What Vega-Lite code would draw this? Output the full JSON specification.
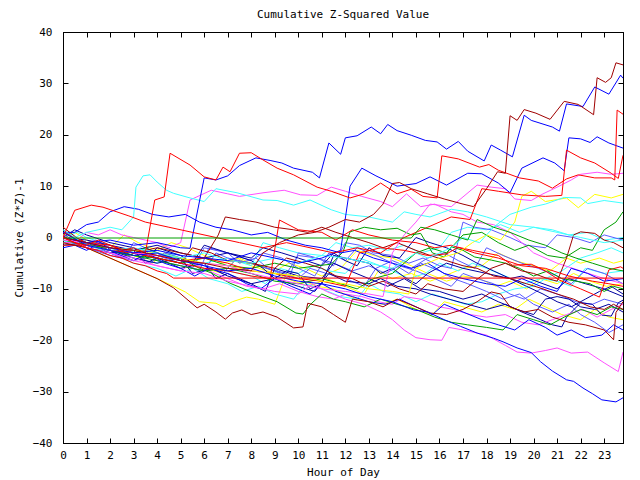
{
"$schema":"https://vega.github.io/schema/vega-lite/v6.json",
"width":560,"height":411,"autosize":"none",
"padding":{"left":63,"top":32,"right":17,"bottom":37},
"background":"white",
"title":{"text":"Cumulative Z-Squared Value","font":"DejaVu Sans Mono","fontSize":11,"fontWeight":"normal","color":"black","offset":6},
"config":{"view":{"stroke":"black","strokeWidth":1},"axis":{"domainColor":"black","tickColor":"black","labelColor":"black","titleColor":"black","labelFont":"DejaVu Sans Mono","titleFont":"DejaVu Sans Mono","labelFontSize":11,"titleFontSize":11,"titleFontWeight":"normal","grid":false,"tickSize":-5}},
"data":{"values":[
{"s":"Y2","x":0,"y":-1},{"s":"Y2","x":1,"y":-2},{"s":"Y2","x":2,"y":-4},{"s":"Y2","x":3,"y":-6},{"s":"Y2","x":4,"y":-8},{"s":"Y2","x":4.7,"y":-9.5},{"s":"Y2","x":5.2,"y":-10.6},{"s":"Y2","x":5.8,"y":-12.5},{"s":"Y2","x":6.5,"y":-12.8},{"s":"Y2","x":6.8,"y":-13.5},{"s":"Y2","x":7.2,"y":-12.5},{"s":"Y2","x":7.8,"y":-11.6},{"s":"Y2","x":8.3,"y":-12},{"s":"Y2","x":9,"y":-13},{"s":"Y2","x":9.5,"y":-7},{"s":"Y2","x":10,"y":-8},{"s":"Y2","x":10.8,"y":-9.5},{"s":"Y2","x":11.5,"y":-10},{"s":"Y2","x":12.2,"y":-11.5},{"s":"Y2","x":13,"y":-12.5},{"s":"Y2","x":13.6,"y":-13},{"s":"Y2","x":14.2,"y":-12},{"s":"Y2","x":15,"y":-14},{"s":"Y2","x":15.7,"y":-15},{"s":"Y2","x":16.2,"y":-12.5},{"s":"Y2","x":17,"y":-13.5},{"s":"Y2","x":17.8,"y":-14.5},{"s":"Y2","x":18.5,"y":-13},{"s":"Y2","x":19.2,"y":-14},{"s":"Y2","x":19.8,"y":-12},{"s":"Y2","x":20.5,"y":-13.5},{"s":"Y2","x":21.2,"y":-15},{"s":"Y2","x":22,"y":-16},{"s":"Y2","x":22.6,"y":-14},{"s":"Y2","x":23.2,"y":-15.5},{"s":"Y2","x":23.8,"y":-16},
{"s":"Y3","x":0,"y":0.5},{"s":"Y3","x":0.5,"y":1},{"s":"Y3","x":1,"y":-0.5},{"s":"Y3","x":2,"y":-2},{"s":"Y3","x":2.6,"y":0.5},{"s":"Y3","x":3.2,"y":-1},{"s":"Y3","x":4,"y":-2.5},{"s":"Y3","x":4.6,"y":-1},{"s":"Y3","x":5.3,"y":-2},{"s":"Y3","x":6,"y":-3.5},{"s":"Y3","x":6.8,"y":-5},{"s":"Y3","x":7.5,"y":-4},{"s":"Y3","x":8.2,"y":-5.5},{"s":"Y3","x":9,"y":-6.5},{"s":"Y3","x":9.6,"y":-5},{"s":"Y3","x":10.3,"y":-6},{"s":"Y3","x":11,"y":-7.5},{"s":"Y3","x":11.8,"y":-6},{"s":"Y3","x":12.5,"y":-2.5},{"s":"Y3","x":13.2,"y":-3.5},{"s":"Y3","x":14,"y":-4},{"s":"Y3","x":14.8,"y":-5.5},{"s":"Y3","x":15.5,"y":-7},{"s":"Y3","x":16.3,"y":-8.5},{"s":"Y3","x":17,"y":-7.5},{"s":"Y3","x":17.7,"y":-8},{"s":"Y3","x":18.4,"y":-9.5},{"s":"Y3","x":19,"y":-8.5},{"s":"Y3","x":19.7,"y":-10},{"s":"Y3","x":20.3,"y":-8},{"s":"Y3","x":21,"y":-9},{"s":"Y3","x":21.7,"y":-7},{"s":"Y3","x":22.4,"y":-8.5},{"s":"Y3","x":23.1,"y":-9.5},{"s":"Y3","x":23.8,"y":-9},
{"s":"Y4","x":0,"y":0},{"s":"Y4","x":1,"y":-1},{"s":"Y4","x":2,"y":-2.5},{"s":"Y4","x":3,"y":-3.5},{"s":"Y4","x":3.8,"y":-5},{"s":"Y4","x":4.3,"y":-3},{"s":"Y4","x":5,"y":-4},{"s":"Y4","x":6,"y":-6},{"s":"Y4","x":6.8,"y":-7},{"s":"Y4","x":7.4,"y":-4},{"s":"Y4","x":8,"y":-5.5},{"s":"Y4","x":9,"y":-7},{"s":"Y4","x":9.8,"y":-8.5},{"s":"Y4","x":10.5,"y":-9.5},{"s":"Y4","x":11.2,"y":-8},{"s":"Y4","x":12,"y":-9.5},{"s":"Y4","x":12.8,"y":-11},{"s":"Y4","x":13.4,"y":-6.5},{"s":"Y4","x":14,"y":-8},{"s":"Y4","x":14.8,"y":-7},{"s":"Y4","x":15.6,"y":-8.5},{"s":"Y4","x":16.2,"y":-7.5},{"s":"Y4","x":17,"y":-6},{"s":"Y4","x":17.8,"y":-5.5},{"s":"Y4","x":18.5,"y":-3},{"s":"Y4","x":19.2,"y":-4.5},{"s":"Y4","x":20,"y":-5.5},{"s":"Y4","x":20.7,"y":-6.5},{"s":"Y4","x":21.4,"y":-4},{"s":"Y4","x":22,"y":-5},{"s":"Y4","x":22.8,"y":-4},{"s":"Y4","x":23.4,"y":-5},{"s":"Y4","x":23.8,"y":-4.5},
{"s":"C3","x":0,"y":1},{"s":"C3","x":1,"y":-1.5},{"s":"C3","x":2,"y":-3},{"s":"C3","x":3,"y":-4},{"s":"C3","x":4,"y":-5},{"s":"C3","x":4.5,"y":-3},{"s":"C3","x":5.2,"y":-4.5},{"s":"C3","x":6,"y":-6},{"s":"C3","x":7,"y":-6.5},{"s":"C3","x":8,"y":-7.5},{"s":"C3","x":8.6,"y":-9},{"s":"C3","x":9.2,"y":-6},{"s":"C3","x":10,"y":-7},{"s":"C3","x":10.6,"y":-5.5},{"s":"C3","x":11.3,"y":-6.5},{"s":"C3","x":12,"y":-7},{"s":"C3","x":12.6,"y":-4},{"s":"C3","x":13.2,"y":-5},{"s":"C3","x":14,"y":-6.5},{"s":"C3","x":14.7,"y":-8},{"s":"C3","x":15.4,"y":-7},{"s":"C3","x":16,"y":-5},{"s":"C3","x":16.8,"y":-6.5},{"s":"C3","x":17.4,"y":-5},{"s":"C3","x":18,"y":-6},{"s":"C3","x":18.8,"y":-7.5},{"s":"C3","x":19.6,"y":-9},{"s":"C3","x":20.3,"y":-8},{"s":"C3","x":21,"y":-8.5},{"s":"C3","x":21.6,"y":-9.5},{"s":"C3","x":22.2,"y":-6},{"s":"C3","x":23,"y":-7},{"s":"C3","x":23.8,"y":-6.5},
{"s":"C4","x":0,"y":0},{"s":"C4","x":0.6,"y":1},{"s":"C4","x":1,"y":0},{"s":"C4","x":2,"y":-1.5},{"s":"C4","x":2.8,"y":-3},{"s":"C4","x":3.3,"y":-2},{"s":"C4","x":4,"y":-3.5},{"s":"C4","x":5,"y":-4.5},{"s":"C4","x":6,"y":-5},{"s":"C4","x":7,"y":-4},{"s":"C4","x":8,"y":-5.5},{"s":"C4","x":8.5,"y":-1},{"s":"C4","x":9.2,"y":-2},{"s":"C4","x":10,"y":-3},{"s":"C4","x":11,"y":-3.5},{"s":"C4","x":11.6,"y":-1},{"s":"C4","x":12.3,"y":-2},{"s":"C4","x":13,"y":-1.5},{"s":"C4","x":13.8,"y":-2.5},{"s":"C4","x":14.5,"y":-1.5},{"s":"C4","x":15.2,"y":-3},{"s":"C4","x":16,"y":-2},{"s":"C4","x":16.5,"y":1},{"s":"C4","x":17.2,"y":2},{"s":"C4","x":18,"y":1.5},{"s":"C4","x":18.6,"y":2.5},{"s":"C4","x":19.4,"y":1},{"s":"C4","x":20,"y":2},{"s":"C4","x":20.8,"y":1.5},{"s":"C4","x":21.5,"y":0.5},{"s":"C4","x":22.3,"y":1},{"s":"C4","x":23,"y":-0.5},{"s":"C4","x":23.8,"y":0},
{"s":"C5","x":0,"y":-0.5},{"s":"C5","x":1,"y":-2},{"s":"C5","x":2,"y":-3},{"s":"C5","x":3,"y":-5},{"s":"C5","x":4,"y":-6},{"s":"C5","x":4.8,"y":-7.5},{"s":"C5","x":5.5,"y":-6},{"s":"C5","x":6.2,"y":-8},{"s":"C5","x":7,"y":-9},{"s":"C5","x":7.6,"y":-10.5},{"s":"C5","x":8.3,"y":-9.5},{"s":"C5","x":9,"y":-11},{"s":"C5","x":9.8,"y":-12},{"s":"C5","x":10.3,"y":-9},{"s":"C5","x":11,"y":-10},{"s":"C5","x":11.8,"y":-11.5},{"s":"C5","x":12.5,"y":-12},{"s":"C5","x":13,"y":-9},{"s":"C5","x":13.6,"y":-10.5},{"s":"C5","x":14.3,"y":-11},{"s":"C5","x":15,"y":-12.5},{"s":"C5","x":15.7,"y":-11},{"s":"C5","x":16.4,"y":-12},{"s":"C5","x":17.1,"y":-13},{"s":"C5","x":17.8,"y":-12.5},{"s":"C5","x":18.5,"y":-11},{"s":"C5","x":19.2,"y":-10},{"s":"C5","x":20,"y":-9.5},{"s":"C5","x":20.5,"y":-8},{"s":"C5","x":21.2,"y":-6.5},{"s":"C5","x":22,"y":-4},{"s":"C5","x":22.7,"y":-3},{"s":"C5","x":23.3,"y":-2},{"s":"C5","x":23.8,"y":-3},
{"s":"SL1","x":0,"y":-1},{"s":"SL1","x":0.5,"y":-1},{"s":"SL1","x":1,"y":-2},{"s":"SL1","x":1.5,"y":-1},{"s":"SL1","x":2,"y":-3},{"s":"SL1","x":2.5,"y":-4},{"s":"SL1","x":3,"y":-2},{"s":"SL1","x":3.5,"y":-3},{"s":"SL1","x":4,"y":-4.5},{"s":"SL1","x":5,"y":-5.5},{"s":"SL1","x":6,"y":-6.5},{"s":"SL1","x":6.5,"y":-3},{"s":"SL1","x":7,"y":-4},{"s":"SL1","x":8,"y":-5},{"s":"SL1","x":9,"y":-6.5},{"s":"SL1","x":9.6,"y":-8},{"s":"SL1","x":10,"y":-3},{"s":"SL1","x":10.8,"y":-4},{"s":"SL1","x":11.5,"y":-5},{"s":"SL1","x":12.3,"y":-6.5},{"s":"SL1","x":13,"y":-5.5},{"s":"SL1","x":13.7,"y":-7},{"s":"SL1","x":14.3,"y":-5.5},{"s":"SL1","x":15,"y":-6.5},{"s":"SL1","x":15.8,"y":-8},{"s":"SL1","x":16.5,"y":-9.5},{"s":"SL1","x":17,"y":-7},{"s":"SL1","x":17.6,"y":-8},{"s":"SL1","x":18.3,"y":-9},{"s":"SL1","x":19,"y":-11},{"s":"SL1","x":19.6,"y":-12},{"s":"SL1","x":20.3,"y":-10},{"s":"SL1","x":21,"y":-11},{"s":"SL1","x":21.8,"y":-12.5},{"s":"SL1","x":22.5,"y":-13},{"s":"SL1","x":23,"y":-12},{"s":"SL1","x":23.8,"y":-13},
{"s":"SL2","x":0,"y":0},{"s":"SL2","x":1,"y":-1},{"s":"SL2","x":2,"y":-3},{"s":"SL2","x":2.6,"y":-4},{"s":"SL2","x":3,"y":-1},{"s":"SL2","x":3.5,"y":-2},{"s":"SL2","x":4.2,"y":-3.5},{"s":"SL2","x":5,"y":-4.5},{"s":"SL2","x":5.5,"y":-6},{"s":"SL2","x":6,"y":-2},{"s":"SL2","x":7,"y":-3},{"s":"SL2","x":7.5,"y":-5},{"s":"SL2","x":8.2,"y":-4},{"s":"SL2","x":8.7,"y":-6},{"s":"SL2","x":9.5,"y":-7},{"s":"SL2","x":10,"y":-3.5},{"s":"SL2","x":10.8,"y":-4},{"s":"SL2","x":11.5,"y":-5.5},{"s":"SL2","x":12,"y":-1},{"s":"SL2","x":12.6,"y":-1.5},{"s":"SL2","x":13.2,"y":-3},{"s":"SL2","x":14,"y":-3.5},{"s":"SL2","x":14.7,"y":-5},{"s":"SL2","x":15.3,"y":-4},{"s":"SL2","x":16,"y":-5.5},{"s":"SL2","x":16.5,"y":-6},{"s":"SL2","x":17,"y":3},{"s":"SL2","x":17.5,"y":2},{"s":"SL2","x":18.2,"y":1.5},{"s":"SL2","x":19,"y":0},{"s":"SL2","x":19.7,"y":-1.5},{"s":"SL2","x":20.5,"y":-2},{"s":"SL2","x":21,"y":0.5},{"s":"SL2","x":21.7,"y":0},{"s":"SL2","x":22.4,"y":-1},{"s":"SL2","x":23,"y":0.5},{"s":"SL2","x":23.8,"y":-0.5},
{"s":"SL3","x":0,"y":0.5},{"s":"SL3","x":1,"y":-2},{"s":"SL3","x":2,"y":-3.5},{"s":"SL3","x":3,"y":-4.5},{"s":"SL3","x":4,"y":-3.5},{"s":"SL3","x":5,"y":-5},{"s":"SL3","x":5.8,"y":-6.5},{"s":"SL3","x":6.2,"y":-2},{"s":"SL3","x":7,"y":-3},{"s":"SL3","x":8,"y":-4.5},{"s":"SL3","x":8.5,"y":-3},{"s":"SL3","x":9.3,"y":-4},{"s":"SL3","x":10,"y":-6},{"s":"SL3","x":10.7,"y":-7.5},{"s":"SL3","x":11.3,"y":-3},{"s":"SL3","x":12,"y":-4.5},{"s":"SL3","x":12.5,"y":-2},{"s":"SL3","x":13.3,"y":-3.5},{"s":"SL3","x":14,"y":-5},{"s":"SL3","x":14.7,"y":-7},{"s":"SL3","x":15.2,"y":-5},{"s":"SL3","x":16,"y":-6.5},{"s":"SL3","x":16.6,"y":-8},{"s":"SL3","x":17.2,"y":-9},{"s":"SL3","x":18,"y":-10.5},{"s":"SL3","x":18.7,"y":-12},{"s":"SL3","x":19.4,"y":-11},{"s":"SL3","x":20,"y":-13},{"s":"SL3","x":20.8,"y":-14.5},{"s":"SL3","x":21.5,"y":-13},{"s":"SL3","x":22,"y":-15},{"s":"SL3","x":22.6,"y":-16.5},{"s":"SL3","x":23.2,"y":-18.5},{"s":"SL3","x":23.8,"y":-17},
{"s":"SL4","x":0,"y":0},{"s":"SL4","x":0.7,"y":-1.5},{"s":"SL4","x":1.4,"y":-0.5},{"s":"SL4","x":2,"y":-2},{"s":"SL4","x":3,"y":-3},{"s":"SL4","x":3.7,"y":-5},{"s":"SL4","x":4.3,"y":-3},{"s":"SL4","x":5,"y":-4},{"s":"SL4","x":6,"y":-5.5},{"s":"SL4","x":6.8,"y":-7},{"s":"SL4","x":7.3,"y":-4.5},{"s":"SL4","x":8,"y":-5},{"s":"SL4","x":9,"y":-6.5},{"s":"SL4","x":10,"y":-8},{"s":"SL4","x":10.5,"y":-6},{"s":"SL4","x":11.2,"y":-7},{"s":"SL4","x":12,"y":-8},{"s":"SL4","x":12.8,"y":-9.5},{"s":"SL4","x":13.3,"y":-6},{"s":"SL4","x":14,"y":-4.5},{"s":"SL4","x":14.8,"y":-6},{"s":"SL4","x":15.5,"y":-4},{"s":"SL4","x":16.2,"y":-3},{"s":"SL4","x":16.8,"y":-4.5},{"s":"SL4","x":17.5,"y":-6},{"s":"SL4","x":18,"y":-2},{"s":"SL4","x":18.7,"y":-3.5},{"s":"SL4","x":19.5,"y":-5},{"s":"SL4","x":20.2,"y":-6},{"s":"SL4","x":21,"y":-7.5},{"s":"SL4","x":21.6,"y":-9},{"s":"SL4","x":22.3,"y":-6},{"s":"SL4","x":23,"y":-7},{"s":"SL4","x":23.8,"y":-9},
{"s":"N1","x":0,"y":1.5},{"s":"N1","x":1,"y":-2},{"s":"N1","x":2,"y":-3},{"s":"N1","x":3,"y":-2.5},{"s":"N1","x":3.5,"y":-5},{"s":"N1","x":4,"y":-4},{"s":"N1","x":5,"y":-6},{"s":"N1","x":6,"y":-5},{"s":"N1","x":6.5,"y":-8},{"s":"N1","x":7,"y":-7},{"s":"N1","x":8,"y":-9},{"s":"N1","x":8.6,"y":-10.5},{"s":"N1","x":9,"y":-6},{"s":"N1","x":10,"y":-7.5},{"s":"N1","x":11,"y":-8},{"s":"N1","x":11.5,"y":-5},{"s":"N1","x":12.2,"y":-6.5},{"s":"N1","x":13,"y":-8},{"s":"N1","x":13.8,"y":-9.5},{"s":"N1","x":14.5,"y":-8},{"s":"N1","x":15.2,"y":-10},{"s":"N1","x":16,"y":-10.5},{"s":"N1","x":17,"y":-12},{"s":"N1","x":17.8,"y":-11},{"s":"N1","x":18.5,"y":-12.5},{"s":"N1","x":19.3,"y":-14},{"s":"N1","x":20,"y":-15},{"s":"N1","x":20.5,"y":-12},{"s":"N1","x":21,"y":-11.5},{"s":"N1","x":21.5,"y":-12},{"s":"N1","x":22,"y":-13.5},{"s":"N1","x":22.6,"y":-14},{"s":"N1","x":23.2,"y":-13},{"s":"N1","x":23.8,"y":-14.5},
{"s":"N2","x":0,"y":0},{"s":"N2","x":0.5,"y":1.5},{"s":"N2","x":1,"y":0.5},{"s":"N2","x":2,"y":-1},{"s":"N2","x":3,"y":-2},{"s":"N2","x":3.6,"y":-4},{"s":"N2","x":4,"y":-2},{"s":"N2","x":5,"y":-3.5},{"s":"N2","x":5.5,"y":-5},{"s":"N2","x":6,"y":-1.5},{"s":"N2","x":7,"y":-3},{"s":"N2","x":8,"y":-4.5},{"s":"N2","x":8.5,"y":-6},{"s":"N2","x":9,"y":-8},{"s":"N2","x":9.5,"y":-6.5},{"s":"N2","x":10,"y":-7},{"s":"N2","x":10.5,"y":-10},{"s":"N2","x":11,"y":-9},{"s":"N2","x":11.5,"y":-3.5},{"s":"N2","x":12,"y":-4},{"s":"N2","x":13,"y":-5},{"s":"N2","x":13.5,"y":-7},{"s":"N2","x":14,"y":-6},{"s":"N2","x":14.6,"y":-8},{"s":"N2","x":15,"y":-9},{"s":"N2","x":15.5,"y":-7},{"s":"N2","x":16.3,"y":-5},{"s":"N2","x":17,"y":-6},{"s":"N2","x":18,"y":-7},{"s":"N2","x":19,"y":-8},{"s":"N2","x":19.5,"y":-7.5},{"s":"N2","x":20.4,"y":-9},{"s":"N2","x":21,"y":-10},{"s":"N2","x":21.5,"y":-8},{"s":"N2","x":22.2,"y":-9},{"s":"N2","x":23,"y":-10},{"s":"N2","x":23.8,"y":-11.5},
{"s":"N3","x":0,"y":-1.5},{"s":"N3","x":1,"y":-1},{"s":"N3","x":2,"y":-2.5},{"s":"N3","x":3,"y":-4},{"s":"N3","x":4,"y":-5},{"s":"N3","x":5,"y":-4},{"s":"N3","x":5.5,"y":-7},{"s":"N3","x":6.3,"y":-6},{"s":"N3","x":7,"y":-7.5},{"s":"N3","x":8,"y":-9},{"s":"N3","x":9,"y":-8},{"s":"N3","x":10,"y":-9.5},{"s":"N3","x":10.7,"y":-10.5},{"s":"N3","x":11.3,"y":-7},{"s":"N3","x":12,"y":-8.5},{"s":"N3","x":13,"y":-9},{"s":"N3","x":13.5,"y":-8},{"s":"N3","x":14.2,"y":-9.5},{"s":"N3","x":15,"y":-10},{"s":"N3","x":15.6,"y":-11},{"s":"N3","x":16.4,"y":-12},{"s":"N3","x":17.2,"y":-13},{"s":"N3","x":18,"y":-14},{"s":"N3","x":18.8,"y":-13},{"s":"N3","x":19.5,"y":-14.5},{"s":"N3","x":20.3,"y":-16},{"s":"N3","x":20.8,"y":-17},{"s":"N3","x":21.2,"y":-17.4},{"s":"N3","x":21.4,"y":-15.5},{"s":"N3","x":22,"y":-12.7},{"s":"N3","x":22.5,"y":-13},{"s":"N3","x":22.9,"y":-15.1},{"s":"N3","x":23.3,"y":-15.3},{"s":"N3","x":23.6,"y":-12.7},{"s":"N3","x":23.8,"y":-12.2},
{"s":"N4","x":0,"y":0},{"s":"N4","x":1,"y":-0.5},{"s":"N4","x":2,"y":-1.5},{"s":"N4","x":3,"y":-2.5},{"s":"N4","x":4,"y":-1.5},{"s":"N4","x":5,"y":-3},{"s":"N4","x":6,"y":-4},{"s":"N4","x":7,"y":-3},{"s":"N4","x":8,"y":-4},{"s":"N4","x":8.5,"y":-2},{"s":"N4","x":9.3,"y":-3},{"s":"N4","x":10,"y":-4},{"s":"N4","x":11,"y":-5.5},{"s":"N4","x":11.5,"y":-3},{"s":"N4","x":12,"y":-4.5},{"s":"N4","x":12.5,"y":-5.5},{"s":"N4","x":13,"y":-2},{"s":"N4","x":13.6,"y":-3.5},{"s":"N4","x":14.3,"y":-4},{"s":"N4","x":15,"y":0},{"s":"N4","x":15.6,"y":-1},{"s":"N4","x":16.3,"y":-2},{"s":"N4","x":17,"y":-3.5},{"s":"N4","x":17.6,"y":-5},{"s":"N4","x":18.3,"y":-6.5},{"s":"N4","x":19,"y":-8},{"s":"N4","x":19.7,"y":-9.5},{"s":"N4","x":20.4,"y":-11},{"s":"N4","x":21,"y":-12.5},{"s":"N4","x":21.6,"y":-13.5},{"s":"N4","x":22.2,"y":-12},{"s":"N4","x":22.8,"y":-10.5},{"s":"N4","x":23.3,"y":-9.5},{"s":"N4","x":23.8,"y":-11},
{"s":"M2","x":0,"y":-1},{"s":"M2","x":0.5,"y":-1},{"s":"M2","x":1,"y":-2},{"s":"M2","x":1.5,"y":-1},{"s":"M2","x":2,"y":-3},{"s":"M2","x":3,"y":-4},{"s":"M2","x":4,"y":-5.5},{"s":"M2","x":5,"y":-6.5},{"s":"M2","x":5.5,"y":-5},{"s":"M2","x":6.2,"y":-6.5},{"s":"M2","x":7,"y":-8},{"s":"M2","x":7.8,"y":-9.5},{"s":"M2","x":8.5,"y":-10},{"s":"M2","x":9.2,"y":-9},{"s":"M2","x":10,"y":-10.5},{"s":"M2","x":10.8,"y":-11.5},{"s":"M2","x":11.5,"y":-12},{"s":"M2","x":12,"y":-11},{"s":"M2","x":12.7,"y":-11.5},{"s":"M2","x":13.4,"y":-12.5},{"s":"M2","x":14,"y":-13},{"s":"M2","x":14.5,"y":-11.5},{"s":"M2","x":15.2,"y":-12},{"s":"M2","x":16,"y":-13.5},{"s":"M2","x":16.6,"y":-14},{"s":"M2","x":17.3,"y":-15},{"s":"M2","x":18,"y":-15.5},{"s":"M2","x":18.8,"y":-15},{"s":"M2","x":19.5,"y":-16.5},{"s":"M2","x":20.2,"y":-17},{"s":"M2","x":20.8,"y":-16},{"s":"M2","x":21.4,"y":-15},{"s":"M2","x":22.1,"y":-14},{"s":"M2","x":22.7,"y":-15.5},{"s":"M2","x":23.3,"y":-14},{"s":"M2","x":23.8,"y":-13},
{"s":"M4","x":0,"y":0},{"s":"M4","x":0.5,"y":-1},{"s":"M4","x":1,"y":1},{"s":"M4","x":1.5,"y":0.5},{"s":"M4","x":2,"y":1.5},{"s":"M4","x":2.5,"y":0.5},{"s":"M4","x":3,"y":0},{"s":"M4","x":3.5,"y":-0.5},{"s":"M4","x":4,"y":-1},{"s":"M4","x":4.5,"y":-2},{"s":"M4","x":5,"y":-1},{"s":"M4","x":5.4,"y":7.3},{"s":"M4","x":6.3,"y":9.2},{"s":"M4","x":7,"y":8.5},{"s":"M4","x":7.5,"y":8},{"s":"M4","x":8.5,"y":8.7},{"s":"M4","x":9.4,"y":9.2},{"s":"M4","x":10.1,"y":8.3},{"s":"M4","x":10.8,"y":8.2},{"s":"M4","x":11.4,"y":9.8},{"s":"M4","x":12,"y":9},{"s":"M4","x":12.7,"y":8},{"s":"M4","x":13.5,"y":7},{"s":"M4","x":14,"y":6},{"s":"M4","x":14.6,"y":8.5},{"s":"M4","x":15.2,"y":6},{"s":"M4","x":15.8,"y":6.5},{"s":"M4","x":16.5,"y":5},{"s":"M4","x":17,"y":4.5},{"s":"M4","x":17.6,"y":3},{"s":"M4","x":18.3,"y":2.5},{"s":"M4","x":19,"y":1},{"s":"M4","x":19.5,"y":-1},{"s":"M4","x":20,"y":-3},{"s":"M4","x":21,"y":-5},{"s":"M4","x":22,"y":-6.5},{"s":"M4","x":23,"y":-8},{"s":"M4","x":23.8,"y":-9},
{"s":"G2","x":0,"y":0.5},{"s":"G2","x":1,"y":-1.5},{"s":"G2","x":2,"y":-2.5},{"s":"G2","x":2.8,"y":-3.5},{"s":"G2","x":3.5,"y":-2},{"s":"G2","x":4.3,"y":-3.5},{"s":"G2","x":5,"y":-4},{"s":"G2","x":5.8,"y":-6},{"s":"G2","x":6.3,"y":-6.9},{"s":"G2","x":7.1,"y":-8.9},{"s":"G2","x":8,"y":-10.6},{"s":"G2","x":8.5,"y":-11.5},{"s":"G2","x":9.1,"y":-12.5},{"s":"G2","x":9.9,"y":-14.7},{"s":"G2","x":10.2,"y":-14.9},{"s":"G2","x":10.5,"y":-13.1},{"s":"G2","x":11,"y":-11},{"s":"G2","x":11.5,"y":-12},{"s":"G2","x":12,"y":-12.5},{"s":"G2","x":12.8,"y":-13.5},{"s":"G2","x":13.5,"y":-12},{"s":"G2","x":14.2,"y":-13},{"s":"G2","x":15,"y":-14},{"s":"G2","x":15.8,"y":-15.5},{"s":"G2","x":16.5,"y":-16.5},{"s":"G2","x":17.2,"y":-17},{"s":"G2","x":18,"y":-17.5},{"s":"G2","x":18.7,"y":-18},{"s":"G2","x":19.3,"y":-15},{"s":"G2","x":20,"y":-16},{"s":"G2","x":20.7,"y":-17},{"s":"G2","x":21.3,"y":-15.5},{"s":"G2","x":22,"y":-14},{"s":"G2","x":22.7,"y":-15},{"s":"G2","x":23.3,"y":-13.5},{"s":"G2","x":23.8,"y":-14},
{"s":"G3","x":0,"y":0},{"s":"G3","x":1,"y":-1},{"s":"G3","x":2,"y":-2.5},{"s":"G3","x":3,"y":-3.5},{"s":"G3","x":4,"y":-4},{"s":"G3","x":5,"y":-5},{"s":"G3","x":6,"y":-4},{"s":"G3","x":7,"y":-5.5},{"s":"G3","x":8,"y":-6},{"s":"G3","x":9,"y":-5},{"s":"G3","x":10,"y":-6},{"s":"G3","x":10.8,"y":-5.5},{"s":"G3","x":11.4,"y":-5.2},{"s":"G3","x":11.9,"y":-2.8},{"s":"G3","x":12.2,"y":1.1},{"s":"G3","x":12.8,"y":2},{"s":"G3","x":13.5,"y":1.5},{"s":"G3","x":14.2,"y":1.8},{"s":"G3","x":14.8,"y":0.5},{"s":"G3","x":15.2,"y":0.8},{"s":"G3","x":15.7,"y":-3},{"s":"G3","x":16.2,"y":-3.8},{"s":"G3","x":16.5,"y":-1.8},{"s":"G3","x":17,"y":-2.5},{"s":"G3","x":17.5,"y":-3.8},{"s":"G3","x":18.2,"y":-4.4},{"s":"G3","x":18.8,"y":-5},{"s":"G3","x":19.4,"y":-6},{"s":"G3","x":20,"y":-7.5},{"s":"G3","x":20.6,"y":-6.5},{"s":"G3","x":21.2,"y":-8},{"s":"G3","x":21.8,"y":-8.5},{"s":"G3","x":22.4,"y":-9},{"s":"G3","x":23,"y":-10.5},{"s":"G3","x":23.4,"y":-9.5},{"s":"G3","x":23.8,"y":-10},
{"s":"G4","x":0,"y":-0.5},{"s":"G4","x":1,"y":-1.5},{"s":"G4","x":2,"y":-2},{"s":"G4","x":3,"y":-3.5},{"s":"G4","x":4,"y":-4.5},{"s":"G4","x":5,"y":-5.5},{"s":"G4","x":6,"y":-6.5},{"s":"G4","x":7,"y":-6},{"s":"G4","x":8,"y":-7},{"s":"G4","x":9,"y":-8.5},{"s":"G4","x":10,"y":-9},{"s":"G4","x":11,"y":-8},{"s":"G4","x":11.8,"y":-9},{"s":"G4","x":12.5,"y":-10},{"s":"G4","x":13.2,"y":-8},{"s":"G4","x":14,"y":-7},{"s":"G4","x":14.5,"y":-5},{"s":"G4","x":15,"y":-3},{"s":"G4","x":15.6,"y":-2},{"s":"G4","x":16.3,"y":-3},{"s":"G4","x":17,"y":0.5},{"s":"G4","x":17.8,"y":1},{"s":"G4","x":18.5,"y":-1},{"s":"G4","x":19.2,"y":-2.5},{"s":"G4","x":19.8,"y":-1.5},{"s":"G4","x":20.6,"y":-3.5},{"s":"G4","x":21.3,"y":-4},{"s":"G4","x":22,"y":-2},{"s":"G4","x":22.5,"y":-2.5},{"s":"G4","x":23,"y":1.5},{"s":"G4","x":23.5,"y":3},{"s":"G4","x":23.8,"y":5},
{"s":"DR3","x":0,"y":1},{"s":"DR3","x":1,"y":-1},{"s":"DR3","x":2,"y":-2},{"s":"DR3","x":3,"y":-3},{"s":"DR3","x":4,"y":-4},{"s":"DR3","x":5,"y":-5},{"s":"DR3","x":5.5,"y":-2},{"s":"DR3","x":6.3,"y":-3},{"s":"DR3","x":7,"y":-4.5},{"s":"DR3","x":8,"y":-5},{"s":"DR3","x":9,"y":-6},{"s":"DR3","x":9.5,"y":-4},{"s":"DR3","x":10.3,"y":-5},{"s":"DR3","x":11,"y":-6},{"s":"DR3","x":11.6,"y":-7.5},{"s":"DR3","x":12.3,"y":-8},{"s":"DR3","x":13,"y":-9.5},{"s":"DR3","x":13.6,"y":-8.5},{"s":"DR3","x":14.3,"y":-10},{"s":"DR3","x":15,"y":-11},{"s":"DR3","x":15.5,"y":-9},{"s":"DR3","x":16.2,"y":-10},{"s":"DR3","x":17,"y":-10.5},{"s":"DR3","x":17.5,"y":-8.5},{"s":"DR3","x":18.2,"y":-6},{"s":"DR3","x":18.8,"y":-5},{"s":"DR3","x":19.5,"y":-6.5},{"s":"DR3","x":20,"y":-7},{"s":"DR3","x":20.6,"y":-8},{"s":"DR3","x":21,"y":-8.5},{"s":"DR3","x":21.4,"y":-4},{"s":"DR3","x":21.7,"y":0.5},{"s":"DR3","x":22,"y":1.1},{"s":"DR3","x":22.6,"y":0.8},{"s":"DR3","x":23,"y":-0.5},{"s":"DR3","x":23.4,"y":-1},{"s":"DR3","x":23.8,"y":-2},
{"s":"DR4","x":0,"y":2},{"s":"DR4","x":1,"y":-1.5},{"s":"DR4","x":2,"y":-2.5},{"s":"DR4","x":3,"y":-3},{"s":"DR4","x":4,"y":-2},{"s":"DR4","x":5,"y":-3},{"s":"DR4","x":6,"y":-4},{"s":"DR4","x":6.6,"y":0.5},{"s":"DR4","x":6.9,"y":4},{"s":"DR4","x":7.5,"y":3.5},{"s":"DR4","x":8.2,"y":3},{"s":"DR4","x":9,"y":2},{"s":"DR4","x":9.8,"y":1.5},{"s":"DR4","x":10.4,"y":1},{"s":"DR4","x":11,"y":2},{"s":"DR4","x":11.6,"y":1},{"s":"DR4","x":12.3,"y":0},{"s":"DR4","x":13,"y":-1},{"s":"DR4","x":13.6,"y":-2},{"s":"DR4","x":14.2,"y":-1},{"s":"DR4","x":15,"y":-2.5},{"s":"DR4","x":15.6,"y":-3.5},{"s":"DR4","x":16.3,"y":-4.5},{"s":"DR4","x":17,"y":-5.5},{"s":"DR4","x":17.6,"y":-6},{"s":"DR4","x":18.3,"y":-7.5},{"s":"DR4","x":19,"y":-8},{"s":"DR4","x":19.7,"y":-9},{"s":"DR4","x":20.4,"y":-10},{"s":"DR4","x":21,"y":-11},{"s":"DR4","x":21.7,"y":-12},{"s":"DR4","x":22.4,"y":-13.5},{"s":"DR4","x":23,"y":-14},{"s":"DR4","x":23.4,"y":-13},{"s":"DR4","x":23.8,"y":-14},
{"s":"Bl2","x":0,"y":-2},{"s":"Bl2","x":0.5,"y":-1.5},{"s":"Bl2","x":1,"y":-2.5},{"s":"Bl2","x":1.6,"y":-1},{"s":"Bl2","x":2.2,"y":-3},{"s":"Bl2","x":3,"y":-4.5},{"s":"Bl2","x":3.6,"y":-3},{"s":"Bl2","x":4.3,"y":-5},{"s":"Bl2","x":5,"y":-6},{"s":"Bl2","x":5.6,"y":-7.5},{"s":"Bl2","x":6.2,"y":-6},{"s":"Bl2","x":7,"y":-7},{"s":"Bl2","x":7.8,"y":-9},{"s":"Bl2","x":8.4,"y":-10},{"s":"Bl2","x":9,"y":-8},{"s":"Bl2","x":9.7,"y":-9.5},{"s":"Bl2","x":10.5,"y":-11},{"s":"Bl2","x":11,"y":-9},{"s":"Bl2","x":11.6,"y":-10.5},{"s":"Bl2","x":12.3,"y":-11.5},{"s":"Bl2","x":13,"y":-12.5},{"s":"Bl2","x":13.7,"y":-13},{"s":"Bl2","x":14.3,"y":-12},{"s":"Bl2","x":15,"y":-13.5},{"s":"Bl2","x":15.7,"y":-15},{"s":"Bl2","x":16.2,"y":-13},{"s":"Bl2","x":17,"y":-14.5},{"s":"Bl2","x":17.8,"y":-16},{"s":"Bl2","x":18.5,"y":-17},{"s":"Bl2","x":19.2,"y":-18},{"s":"Bl2","x":19.8,"y":-16},{"s":"Bl2","x":20.5,"y":-17.5},{"s":"Bl2","x":21,"y":-19},{"s":"Bl2","x":21.6,"y":-18},{"s":"Bl2","x":22.2,"y":-19.5},{"s":"Bl2","x":22.9,"y":-19},{"s":"Bl2","x":23.4,"y":-17},{"s":"Bl2","x":23.8,"y":-18},
{"s":"B3","x":0,"y":1},{"s":"B3","x":0.5,"y":1},{"s":"B3","x":1,"y":2.5},{"s":"B3","x":1.5,"y":3},{"s":"B3","x":2,"y":5},{"s":"B3","x":2.6,"y":6},{"s":"B3","x":3.2,"y":5.5},{"s":"B3","x":3.8,"y":4.5},{"s":"B3","x":4.5,"y":4},{"s":"B3","x":5.2,"y":4.5},{"s":"B3","x":5.8,"y":3},{"s":"B3","x":6.5,"y":2},{"s":"B3","x":7.2,"y":1.5},{"s":"B3","x":8,"y":0.5},{"s":"B3","x":8.7,"y":1},{"s":"B3","x":9.5,"y":-0.5},{"s":"B3","x":10.3,"y":-1.5},{"s":"B3","x":11,"y":-2},{"s":"B3","x":11.8,"y":-3},{"s":"B3","x":12.4,"y":-2.5},{"s":"B3","x":13.2,"y":-4},{"s":"B3","x":14,"y":-5},{"s":"B3","x":14.8,"y":-6},{"s":"B3","x":15.5,"y":-5},{"s":"B3","x":16.2,"y":-7},{"s":"B3","x":17,"y":-8},{"s":"B3","x":18,"y":-9},{"s":"B3","x":18.8,"y":-9.5},{"s":"B3","x":19.5,"y":-8},{"s":"B3","x":20.3,"y":-9.5},{"s":"B3","x":21,"y":-10.5},{"s":"B3","x":21.6,"y":-6},{"s":"B3","x":22.3,"y":-7},{"s":"B3","x":23,"y":-8.5},{"s":"B3","x":23.8,"y":-8},
{"s":"R4","x":0,"y":1},{"s":"R4","x":1,"y":-1},{"s":"R4","x":2,"y":-1.5},{"s":"R4","x":3,"y":-3},{"s":"R4","x":4,"y":-3.5},{"s":"R4","x":5,"y":-4.5},{"s":"R4","x":6,"y":-4},{"s":"R4","x":7,"y":-5},{"s":"R4","x":8,"y":-6.5},{"s":"R4","x":9,"y":-7},{"s":"R4","x":10,"y":-8},{"s":"R4","x":11,"y":-8.5},{"s":"R4","x":12,"y":-9.5},{"s":"R4","x":12.6,"y":-3},{"s":"R4","x":13.5,"y":-2},{"s":"R4","x":14.5,"y":-2.5},{"s":"R4","x":15.5,"y":-3.5},{"s":"R4","x":16.3,"y":-3.2},{"s":"R4","x":16.8,"y":-1.9},{"s":"R4","x":17.4,"y":-2.5},{"s":"R4","x":18.5,"y":-3.5},{"s":"R4","x":19.1,"y":-5.4},{"s":"R4","x":19.9,"y":-5.2},{"s":"R4","x":20.5,"y":-6.5},{"s":"R4","x":21.1,"y":-8.3},{"s":"R4","x":22,"y":-10},{"s":"R4","x":22.8,"y":-11.6},{"s":"R4","x":23.2,"y":-6.3},{"s":"R4","x":23.7,"y":-5.7},{"s":"R4","x":23.8,"y":-6},
{"s":"R5","x":0,"y":-1.5},{"s":"R5","x":1,"y":-1.5},{"s":"R5","x":2,"y":-2.5},{"s":"R5","x":3,"y":-3},{"s":"R5","x":4,"y":-4},{"s":"R5","x":5,"y":-5},{"s":"R5","x":6,"y":-6},{"s":"R5","x":7,"y":-6.5},{"s":"R5","x":8,"y":-7.5},{"s":"R5","x":8.8,"y":-8},{"s":"R5","x":9.2,"y":3.4},{"s":"R5","x":10,"y":1.5},{"s":"R5","x":11,"y":1},{"s":"R5","x":11.6,"y":-0.5},{"s":"R5","x":12.3,"y":1.5},{"s":"R5","x":13,"y":0.5},{"s":"R5","x":14,"y":-0.5},{"s":"R5","x":15,"y":-1},{"s":"R5","x":15.8,"y":-2},{"s":"R5","x":16.5,"y":-1.5},{"s":"R5","x":17.5,"y":-3},{"s":"R5","x":18.5,"y":-4},{"s":"R5","x":19.5,"y":-5.5},{"s":"R5","x":20.5,"y":-6},{"s":"R5","x":21.5,"y":-7.5},{"s":"R5","x":22.5,"y":-8.5},{"s":"R5","x":23.2,"y":-9},{"s":"R5","x":23.8,"y":-9.5},
{"s":"Y1","x":0,"y":0},{"s":"Y1","x":1,"y":-1},{"s":"Y1","x":2,"y":-2},{"s":"Y1","x":3,"y":-2.5},{"s":"Y1","x":4,"y":-3},{"s":"Y1","x":5,"y":-4},{"s":"Y1","x":6,"y":-5},{"s":"Y1","x":7,"y":-5.5},{"s":"Y1","x":8,"y":-6.5},{"s":"Y1","x":9,"y":-7},{"s":"Y1","x":10,"y":-7.5},{"s":"Y1","x":11,"y":-8.5},{"s":"Y1","x":12,"y":-9},{"s":"Y1","x":13,"y":-10},{"s":"Y1","x":14,"y":-10.5},{"s":"Y1","x":14.7,"y":-11},{"s":"Y1","x":15,"y":-6},{"s":"Y1","x":16,"y":-4},{"s":"Y1","x":16.8,"y":-3},{"s":"Y1","x":17.4,"y":-1},{"s":"Y1","x":18,"y":0.5},{"s":"Y1","x":18.6,"y":-0.5},{"s":"Y1","x":19.2,"y":3},{"s":"Y1","x":19.5,"y":8},{"s":"Y1","x":19.9,"y":9},{"s":"Y1","x":20.5,"y":7},{"s":"Y1","x":21.4,"y":7.7},{"s":"Y1","x":21.9,"y":5.8},{"s":"Y1","x":22.6,"y":8.4},{"s":"Y1","x":23.3,"y":7.7},{"s":"Y1","x":23.8,"y":8.4},
{"s":"C1","x":0,"y":-1},{"s":"C1","x":1,"y":1},{"s":"C1","x":2,"y":2},{"s":"C1","x":2.5,"y":1.5},{"s":"C1","x":3,"y":4},{"s":"C1","x":3.1,"y":9.8},{"s":"C1","x":3.4,"y":12},{"s":"C1","x":3.7,"y":12.2},{"s":"C1","x":4,"y":10.8},{"s":"C1","x":4.4,"y":9.2},{"s":"C1","x":4.7,"y":8.6},{"s":"C1","x":5.4,"y":7.7},{"s":"C1","x":6,"y":7},{"s":"C1","x":6.5,"y":9.5},{"s":"C1","x":7.4,"y":8.7},{"s":"C1","x":8.5,"y":7.3},{"s":"C1","x":9.1,"y":7.2},{"s":"C1","x":9.8,"y":6.3},{"s":"C1","x":10.5,"y":7.3},{"s":"C1","x":11.4,"y":5.4},{"s":"C1","x":12,"y":4.5},{"s":"C1","x":13,"y":4},{"s":"C1","x":14,"y":3},{"s":"C1","x":14.5,"y":5},{"s":"C1","x":15,"y":4.5},{"s":"C1","x":15.6,"y":4},{"s":"C1","x":16.5,"y":5.5},{"s":"C1","x":17.2,"y":5},{"s":"C1","x":18,"y":4},{"s":"C1","x":19,"y":2.5},{"s":"C1","x":20,"y":2},{"s":"C1","x":21,"y":1},{"s":"C1","x":22,"y":0},{"s":"C1","x":23,"y":-1},{"s":"C1","x":23.8,"y":-0.5},
{"s":"C2","x":0,"y":1.5},{"s":"C2","x":1,"y":-1.5},{"s":"C2","x":2,"y":-2.5},{"s":"C2","x":3,"y":-2},{"s":"C2","x":4,"y":-3},{"s":"C2","x":5,"y":-4},{"s":"C2","x":6,"y":-3},{"s":"C2","x":7,"y":-4.5},{"s":"C2","x":8,"y":-5},{"s":"C2","x":9,"y":-4},{"s":"C2","x":10,"y":-5},{"s":"C2","x":11,"y":-3.5},{"s":"C2","x":12,"y":-4},{"s":"C2","x":13,"y":-5},{"s":"C2","x":14,"y":-6},{"s":"C2","x":15,"y":-3},{"s":"C2","x":15.5,"y":-4},{"s":"C2","x":16.5,"y":-2},{"s":"C2","x":17,"y":0},{"s":"C2","x":17.7,"y":-1},{"s":"C2","x":18.3,"y":2},{"s":"C2","x":19,"y":4.5},{"s":"C2","x":19.9,"y":5.9},{"s":"C2","x":20.5,"y":6.5},{"s":"C2","x":21.3,"y":7.8},{"s":"C2","x":22,"y":7.7},{"s":"C2","x":22.3,"y":6.6},{"s":"C2","x":23,"y":7.2},{"s":"C2","x":23.8,"y":6.7},
{"s":"M3","x":0,"y":-0.5},{"s":"M3","x":1,"y":-1},{"s":"M3","x":2,"y":-2},{"s":"M3","x":3,"y":-3},{"s":"M3","x":4,"y":-3.5},{"s":"M3","x":5,"y":-4.5},{"s":"M3","x":6,"y":-5},{"s":"M3","x":7,"y":-5.5},{"s":"M3","x":8,"y":-7},{"s":"M3","x":9,"y":-8},{"s":"M3","x":10,"y":-9},{"s":"M3","x":11,"y":-10},{"s":"M3","x":12,"y":-10.5},{"s":"M3","x":13,"y":-11},{"s":"M3","x":13.6,"y":-11.5},{"s":"M3","x":14,"y":-3},{"s":"M3","x":14.5,"y":0.5},{"s":"M3","x":15,"y":3},{"s":"M3","x":15.6,"y":6.5},{"s":"M3","x":16.5,"y":6},{"s":"M3","x":17,"y":7.9},{"s":"M3","x":17.6,"y":10.2},{"s":"M3","x":18.2,"y":9.8},{"s":"M3","x":18.8,"y":9.5},{"s":"M3","x":19.2,"y":7.5},{"s":"M3","x":19.9,"y":7.2},{"s":"M3","x":20.4,"y":8.5},{"s":"M3","x":21,"y":9.8},{"s":"M3","x":21.6,"y":11.2},{"s":"M3","x":22,"y":12.3},{"s":"M3","x":22.7,"y":12.7},{"s":"M3","x":23.3,"y":12.3},{"s":"M3","x":23.8,"y":12.5},
{"s":"M1","x":0,"y":0.5},{"s":"M1","x":1,"y":-2},{"s":"M1","x":2,"y":-3},{"s":"M1","x":3,"y":-4.5},{"s":"M1","x":4,"y":-5.5},{"s":"M1","x":5,"y":-6.5},{"s":"M1","x":6,"y":-7},{"s":"M1","x":7,"y":-8.5},{"s":"M1","x":8,"y":-9.5},{"s":"M1","x":9,"y":-10.5},{"s":"M1","x":10,"y":-11},{"s":"M1","x":10.6,"y":-9},{"s":"M1","x":11.2,"y":-10.5},{"s":"M1","x":12,"y":-12},{"s":"M1","x":12.8,"y":-13},{"s":"M1","x":13.5,"y":-14.5},{"s":"M1","x":14,"y":-16},{"s":"M1","x":14.5,"y":-18},{"s":"M1","x":15,"y":-19.5},{"s":"M1","x":15.6,"y":-19.9},{"s":"M1","x":16.1,"y":-20},{"s":"M1","x":16.4,"y":-17.5},{"s":"M1","x":17,"y":-18},{"s":"M1","x":18,"y":-19},{"s":"M1","x":18.8,"y":-21},{"s":"M1","x":19.3,"y":-22.3},{"s":"M1","x":19.9,"y":-22.5},{"s":"M1","x":20.5,"y":-22},{"s":"M1","x":21,"y":-21.5},{"s":"M1","x":21.6,"y":-22.5},{"s":"M1","x":22.3,"y":-22.3},{"s":"M1","x":23,"y":-24.4},{"s":"M1","x":23.6,"y":-26.1},{"s":"M1","x":23.8,"y":-22.3},
{"s":"DR2","x":0,"y":-1},{"s":"DR2","x":1,"y":-2},{"s":"DR2","x":2,"y":-4},{"s":"DR2","x":3,"y":-6},{"s":"DR2","x":4,"y":-8},{"s":"DR2","x":4.7,"y":-9.8},{"s":"DR2","x":5.7,"y":-13.7},{"s":"DR2","x":6,"y":-13},{"s":"DR2","x":6.5,"y":-14.5},{"s":"DR2","x":6.9,"y":-15.9},{"s":"DR2","x":7.2,"y":-14.7},{"s":"DR2","x":7.6,"y":-14.1},{"s":"DR2","x":8,"y":-15},{"s":"DR2","x":8.5,"y":-14.5},{"s":"DR2","x":9.1,"y":-15.5},{"s":"DR2","x":9.8,"y":-17.6},{"s":"DR2","x":10.2,"y":-17.4},{"s":"DR2","x":10.4,"y":-12.8},{"s":"DR2","x":11,"y":-13.5},{"s":"DR2","x":11.5,"y":-15},{"s":"DR2","x":12,"y":-16.5},{"s":"DR2","x":12.3,"y":-12},{"s":"DR2","x":13,"y":-12.5},{"s":"DR2","x":13.6,"y":-13.5},{"s":"DR2","x":14.2,"y":-12},{"s":"DR2","x":15,"y":-13.5},{"s":"DR2","x":15.6,"y":-14.7},{"s":"DR2","x":16.3,"y":-15},{"s":"DR2","x":17,"y":-14},{"s":"DR2","x":17.6,"y":-12.5},{"s":"DR2","x":18.2,"y":-10.6},{"s":"DR2","x":18.6,"y":-11},{"s":"DR2","x":19,"y":-13.5},{"s":"DR2","x":19.6,"y":-14.5},{"s":"DR2","x":20.2,"y":-14},{"s":"DR2","x":20.8,"y":-15.5},{"s":"DR2","x":21.5,"y":-16.5},{"s":"DR2","x":22.2,"y":-17},{"s":"DR2","x":23,"y":-18},{"s":"DR2","x":23.4,"y":-19.9},{"s":"DR2","x":23.5,"y":-14.6},{"s":"DR2","x":23.8,"y":-12.5},
{"s":"Bl1","x":0,"y":1},{"s":"Bl1","x":1,"y":-1.5},{"s":"Bl1","x":2,"y":-2.5},{"s":"Bl1","x":3,"y":-3.5},{"s":"Bl1","x":4,"y":-3},{"s":"Bl1","x":5,"y":-4.5},{"s":"Bl1","x":6,"y":-5.5},{"s":"Bl1","x":7,"y":-6.5},{"s":"Bl1","x":8,"y":-6},{"s":"Bl1","x":9,"y":-7.5},{"s":"Bl1","x":10,"y":-8.5},{"s":"Bl1","x":11,"y":-9},{"s":"Bl1","x":12,"y":-10},{"s":"Bl1","x":13,"y":-11.5},{"s":"Bl1","x":14,"y":-12.5},{"s":"Bl1","x":14.9,"y":-14.1},{"s":"Bl1","x":15.5,"y":-14.5},{"s":"Bl1","x":16.2,"y":-16},{"s":"Bl1","x":16.9,"y":-17.3},{"s":"Bl1","x":17.6,"y":-18.6},{"s":"Bl1","x":18.3,"y":-19.6},{"s":"Bl1","x":18.7,"y":-20.3},{"s":"Bl1","x":19.3,"y":-21.5},{"s":"Bl1","x":19.9,"y":-22.4},{"s":"Bl1","x":20.3,"y":-24.2},{"s":"Bl1","x":20.8,"y":-26},{"s":"Bl1","x":21.4,"y":-27.7},{"s":"Bl1","x":21.7,"y":-28},{"s":"Bl1","x":22.1,"y":-29.3},{"s":"Bl1","x":22.5,"y":-30.4},{"s":"Bl1","x":22.9,"y":-31.6},{"s":"Bl1","x":23.5,"y":-32},{"s":"Bl1","x":23.8,"y":-31.2},
{"s":"B2","x":0,"y":0},{"s":"B2","x":1,"y":-1},{"s":"B2","x":2,"y":-2},{"s":"B2","x":3,"y":-3},{"s":"B2","x":4,"y":-2.5},{"s":"B2","x":5,"y":-3.5},{"s":"B2","x":6,"y":-4},{"s":"B2","x":7,"y":-4.5},{"s":"B2","x":8,"y":-3},{"s":"B2","x":9,"y":-4},{"s":"B2","x":10,"y":-5},{"s":"B2","x":11,"y":-4},{"s":"B2","x":11.8,"y":-2.5},{"s":"B2","x":12.2,"y":10},{"s":"B2","x":12.7,"y":13.5},{"s":"B2","x":13.3,"y":12},{"s":"B2","x":14.2,"y":10},{"s":"B2","x":15,"y":10.5},{"s":"B2","x":15.6,"y":11.8},{"s":"B2","x":16.3,"y":10.2},{"s":"B2","x":17.2,"y":12.5},{"s":"B2","x":17.8,"y":12.4},{"s":"B2","x":18.5,"y":10.6},{"s":"B2","x":19,"y":8.7},{"s":"B2","x":19.5,"y":13.5},{"s":"B2","x":20.4,"y":15.5},{"s":"B2","x":20.9,"y":14.5},{"s":"B2","x":21.3,"y":13},{"s":"B2","x":21.5,"y":19.4},{"s":"B2","x":22,"y":19.2},{"s":"B2","x":22.4,"y":18.5},{"s":"B2","x":22.7,"y":19.6},{"s":"B2","x":23.2,"y":18.4},{"s":"B2","x":23.8,"y":17.4},
{"s":"B1","x":0,"y":0},{"s":"B1","x":1,"y":-1},{"s":"B1","x":2,"y":-0.5},{"s":"B1","x":3,"y":-1.5},{"s":"B1","x":4,"y":-1},{"s":"B1","x":5,"y":-2},{"s":"B1","x":5.4,"y":-2.1},{"s":"B1","x":6,"y":11.6},{"s":"B1","x":6.5,"y":11.2},{"s":"B1","x":7,"y":12},{"s":"B1","x":7.5,"y":14},{"s":"B1","x":8.2,"y":15.5},{"s":"B1","x":8.8,"y":15},{"s":"B1","x":9.3,"y":14.5},{"s":"B1","x":9.8,"y":13.5},{"s":"B1","x":10.6,"y":12.7},{"s":"B1","x":10.9,"y":11.6},{"s":"B1","x":11.3,"y":18.4},{"s":"B1","x":11.8,"y":16.2},{"s":"B1","x":12,"y":19.4},{"s":"B1","x":12.5,"y":19.8},{"s":"B1","x":13.1,"y":21.5},{"s":"B1","x":13.5,"y":20.2},{"s":"B1","x":13.8,"y":22},{"s":"B1","x":14.2,"y":20.8},{"s":"B1","x":14.8,"y":19.9},{"s":"B1","x":15.4,"y":18.9},{"s":"B1","x":15.9,"y":18.6},{"s":"B1","x":16.3,"y":17.2},{"s":"B1","x":16.8,"y":18.7},{"s":"B1","x":17.2,"y":16.8},{"s":"B1","x":17.9,"y":14.9},{"s":"B1","x":18.2,"y":18},{"s":"B1","x":18.6,"y":17},{"s":"B1","x":19.1,"y":15.7},{"s":"B1","x":19.6,"y":23.8},{"s":"B1","x":19.9,"y":22.8},{"s":"B1","x":20.8,"y":21.5},{"s":"B1","x":21.1,"y":20.7},{"s":"B1","x":21.4,"y":26},{"s":"B1","x":22.1,"y":25.5},{"s":"B1","x":22.6,"y":29.3},{"s":"B1","x":23.2,"y":27.9},{"s":"B1","x":23.7,"y":31.6},{"s":"B1","x":23.8,"y":31},
{"s":"R3","x":0,"y":0},{"s":"R3","x":0.5,"y":5.3},{"s":"R3","x":1.2,"y":6.3},{"s":"R3","x":1.7,"y":5.9},{"s":"R3","x":2.8,"y":4.2},{"s":"R3","x":3.5,"y":3},{"s":"R3","x":4.5,"y":2},{"s":"R3","x":5.5,"y":1},{"s":"R3","x":6.5,"y":0},{"s":"R3","x":7.5,"y":-1},{"s":"R3","x":8.5,"y":-2},{"s":"R3","x":9.5,"y":-1},{"s":"R3","x":10.5,"y":-2},{"s":"R3","x":11.5,"y":-3},{"s":"R3","x":12.5,"y":-2},{"s":"R3","x":13.5,"y":-3},{"s":"R3","x":14.5,"y":0},{"s":"R3","x":15.5,"y":2},{"s":"R3","x":16.5,"y":4},{"s":"R3","x":17.3,"y":3.5},{"s":"R3","x":17.8,"y":9.5},{"s":"R3","x":18.5,"y":9},{"s":"R3","x":19.5,"y":8.3},{"s":"R3","x":20.5,"y":8},{"s":"R3","x":21.2,"y":8.2},{"s":"R3","x":21.4,"y":17},{"s":"R3","x":22,"y":15.5},{"s":"R3","x":22.6,"y":14.5},{"s":"R3","x":23.3,"y":12.5},{"s":"R3","x":23.6,"y":11.5},{"s":"R3","x":23.8,"y":16},
{"s":"R1","x":0,"y":0},{"s":"R1","x":0.5,"y":-1},{"s":"R1","x":1,"y":-1.5},{"s":"R1","x":1.5,"y":-0.5},{"s":"R1","x":2,"y":-1.5},{"s":"R1","x":2.5,"y":-2.5},{"s":"R1","x":3,"y":-2},{"s":"R1","x":3.5,"y":-3},{"s":"R1","x":3.9,"y":7.3},{"s":"R1","x":4.3,"y":7.9},{"s":"R1","x":4.55,"y":16.4},{"s":"R1","x":5.4,"y":14.1},{"s":"R1","x":6,"y":11.8},{"s":"R1","x":6.5,"y":11.2},{"s":"R1","x":6.8,"y":13.7},{"s":"R1","x":7.1,"y":12.8},{"s":"R1","x":7.5,"y":16.4},{"s":"R1","x":8,"y":16.5},{"s":"R1","x":8.5,"y":15.1},{"s":"R1","x":9.1,"y":13.5},{"s":"R1","x":9.8,"y":12.2},{"s":"R1","x":10.8,"y":9.8},{"s":"R1","x":11.4,"y":9},{"s":"R1","x":12.2,"y":7.7},{"s":"R1","x":12.8,"y":8.5},{"s":"R1","x":13.5,"y":10.6},{"s":"R1","x":14.2,"y":8.5},{"s":"R1","x":14.8,"y":9.4},{"s":"R1","x":15.3,"y":8},{"s":"R1","x":15.9,"y":7.7},{"s":"R1","x":16.1,"y":15.9},{"s":"R1","x":16.8,"y":15.3},{"s":"R1","x":17.7,"y":13.7},{"s":"R1","x":18.1,"y":14.2},{"s":"R1","x":18.5,"y":13.1},{"s":"R1","x":19.4,"y":11.6},{"s":"R1","x":20.2,"y":11},{"s":"R1","x":20.8,"y":9.6},{"s":"R1","x":21.4,"y":11.4},{"s":"R1","x":21.9,"y":12.2},{"s":"R1","x":22.6,"y":11.6},{"s":"R1","x":23.3,"y":11.6},{"s":"R1","x":23.45,"y":11.2},{"s":"R1","x":23.55,"y":24.8},{"s":"R1","x":23.8,"y":24},
{"s":"DR1","x":0,"y":0},{"s":"DR1","x":1,"y":-1},{"s":"DR1","x":2,"y":-2},{"s":"DR1","x":3,"y":-2.5},{"s":"DR1","x":4,"y":-3.5},{"s":"DR1","x":5,"y":-4.5},{"s":"DR1","x":6,"y":-5},{"s":"DR1","x":7,"y":-6},{"s":"DR1","x":8,"y":-6.5},{"s":"DR1","x":8.5,"y":-3},{"s":"DR1","x":9.2,"y":-1},{"s":"DR1","x":10,"y":0.5},{"s":"DR1","x":10.7,"y":1},{"s":"DR1","x":11.3,"y":2},{"s":"DR1","x":12,"y":3.5},{"s":"DR1","x":12.6,"y":3},{"s":"DR1","x":13.2,"y":4.5},{"s":"DR1","x":13.6,"y":6.5},{"s":"DR1","x":14,"y":10.5},{"s":"DR1","x":14.3,"y":10.7},{"s":"DR1","x":14.8,"y":9.5},{"s":"DR1","x":15.5,"y":8.5},{"s":"DR1","x":16.2,"y":7.5},{"s":"DR1","x":17,"y":6.5},{"s":"DR1","x":17.45,"y":6},{"s":"DR1","x":18,"y":9.5},{"s":"DR1","x":18.47,"y":12.8},{"s":"DR1","x":18.8,"y":12.5},{"s":"DR1","x":19,"y":23.7},{"s":"DR1","x":19.3,"y":22.8},{"s":"DR1","x":19.6,"y":24.9},{"s":"DR1","x":20.1,"y":24.2},{"s":"DR1","x":20.7,"y":23},{"s":"DR1","x":21.3,"y":26.5},{"s":"DR1","x":21.9,"y":25.9},{"s":"DR1","x":22.55,"y":23.9},{"s":"DR1","x":22.7,"y":31.1},{"s":"DR1","x":23.06,"y":30.2},{"s":"DR1","x":23.3,"y":31.1},{"s":"DR1","x":23.5,"y":34},{"s":"DR1","x":23.8,"y":33.6},
{"s":"GF","x":0,"y":0},{"s":"GF","x":0.2,"y":-0.1},{"s":"GF","x":14.8,"y":-0.1},{"s":"GF","x":15.2,"y":2},{"s":"GF","x":15.8,"y":1.5},{"s":"GF","x":16.5,"y":0.5},{"s":"GF","x":17.2,"y":-0.5},{"s":"GF","x":17.6,"y":3.5},{"s":"GF","x":18.3,"y":2},{"s":"GF","x":19,"y":1},{"s":"GF","x":19.8,"y":-0.5},{"s":"GF","x":20.5,"y":-1.5},{"s":"GF","x":21.2,"y":-3},{"s":"GF","x":21.8,"y":-4},{"s":"GF","x":22.5,"y":-5},{"s":"GF","x":23.2,"y":-6},{"s":"GF","x":23.8,"y":-6.5},
{"s":"RF","x":0,"y":0},{"s":"RF","x":0.5,"y":-1},{"s":"RF","x":1,"y":-2},{"s":"RF","x":1.5,"y":-2.5},{"s":"RF","x":2,"y":-3.5},{"s":"RF","x":2.5,"y":-4},{"s":"RF","x":3,"y":-5},{"s":"RF","x":3.5,"y":-5.5},{"s":"RF","x":4,"y":-6.5},{"s":"RF","x":4.4,"y":-7},{"s":"RF","x":4.7,"y":-7.9},{"s":"RF","x":23.8,"y":-7.9}
]},
"layer":[
{"mark":{"type":"line","strokeWidth":1,"clip":true},
 "encoding":{
  "x":{"field":"x","type":"quantitative","scale":{"domain":[0,23.8],"nice":false,"zero":false},"axis":{"orient":"bottom","values":[0,1,2,3,4,5,6,7,8,9,10,11,12,13,14,15,16,17,18,19,20,21,22,23],"title":"Hour of Day","titlePadding":6,"labelPadding":11,"labelFlush":false}},
  "y":{"field":"y","type":"quantitative","scale":{"domain":[-40,40],"nice":false,"zero":false},"axis":{"orient":"left","values":[-40,-30,-20,-10,0,10,20,30,40],"title":"Cumulative (Z*Z)-1","titlePadding":8,"labelPadding":16}},
  "color":{"field":"s","type":"nominal","legend":null,"sort":null,
   "scale":{"domain":["Y2","Y3","Y4","C3","C4","C5","SL1","SL2","SL3","SL4","N1","N2","N3","N4","M2","M4","G2","G3","G4","DR3","DR4","Bl2","B3","R4","R5","Y1","C1","C2","M3","M1","DR2","Bl1","B2","B1","R3","R1","DR1","GF","RF"],
   "range":["#ffff00","#ffff00","#ffff00","#40ffff","#40ffff","#40ffff","#5a5aff","#5a5aff","#5a5aff","#5a5aff","#0000a0","#0000a0","#0000a0","#0000a0","#ff50ff","#ff50ff","#00a000","#00a000","#00a000","#a00000","#a00000","#0000ff","#0000ff","#ff0000","#ff0000","#ffff00","#40ffff","#40ffff","#ff50ff","#ff50ff","#a00000","#0000ff","#0000ff","#0000ff","#ff0000","#ff0000","#a00000","#00a000","#ff0000"]}}
 }},
{"mark":{"type":"point","opacity":0},
 "encoding":{
  "x":{"field":"x","type":"quantitative","axis":{"orient":"top","labels":false,"title":null,"values":[0,1,2,3,4,5,6,7,8,9,10,11,12,13,14,15,16,17,18,19,20,21,22,23]}},
  "y":{"field":"y","type":"quantitative","axis":{"orient":"right","labels":false,"title":null,"values":[-40,-30,-20,-10,0,10,20,30,40]}}
 }}
],
"resolve":{"axis":{"x":"independent","y":"independent"}}
}
